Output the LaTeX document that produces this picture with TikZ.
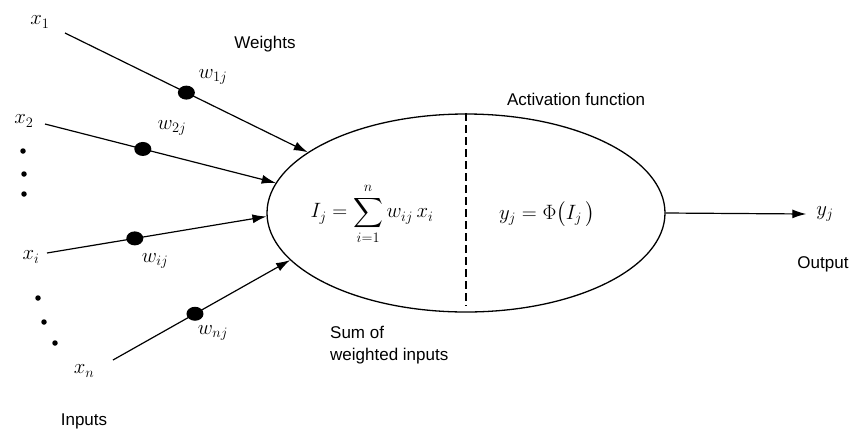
\documentclass[tikz,border=0pt]{standalone}
\usepackage{amsmath}
\usepackage{fontspec}
\setmainfont{Liberation Sans}
\usetikzlibrary{arrows.meta,shapes.geometric}
\tikzset{
  nrbody/.style={ellipse, draw=black, line width=1.3pt, minimum width=398pt, minimum height=198pt, inner sep=0pt},
  nrwire/.style={line width=1.2pt, draw=black, -{Latex[length=14pt,width=9pt]}},
  nrdot/.style={ellipse, fill=black, minimum width=17pt, minimum height=14pt, inner sep=0pt},
  nrsmall/.style={circle, fill=black, minimum size=5.5pt, inner sep=0pt},
  nrsplit/.style={line width=1.6pt, draw=black, dash pattern=on 8pt off 4pt},
  nrtext/.style={font=\fontsize{17}{22}\selectfont, inner sep=0pt, align=left},
  nrmath/.style={font=\fontsize{21}{25}\selectfont, inner sep=0pt},
}

\begin{document}
\begin{tikzpicture}[x=1pt,y=-1pt]
\useasboundingbox (0,0) rectangle (849,432);
% neuron body
\node[nrbody] (neuron) at (466,213) {};
\draw[nrsplit] (neuron.north) -- ([yshift=7pt]neuron.south);
\node[nrmath] (sum) at (372,214) {$I_j = \displaystyle\sum_{i=1}^{n} w_{ij}\,x_i$};
\node[nrmath] (act) at (547,214) {$y_j = \Phi\bigl(I_j\,\bigr)$};
% inputs
\coordinate (s1) at (65,33);
\coordinate (s2) at (45,124);
\coordinate (si) at (47,253);
\coordinate (sn) at (113,360);
\node[nrmath] (x1) at (40,22) {$x_1$};
\node[nrmath] (x2) at (24,121) {$x_2$};
\node[nrmath] (xi) at (31,257) {$x_i$};
\node[nrmath] (xn) at (84,371) {$x_n$};
\draw[nrwire] (s1) -- node[nrdot,pos=0.5] (d1) {} (neuron.159);
\draw[nrwire] (s2) -- node[nrdot,pos=0.424] (d2) {} (neuron.171);
\draw[nrwire] (si) -- node[nrdot,pos=0.4] (di) {} (neuron.181);
\draw[nrwire] (sn) -- node[nrdot,pos=0.463] (dn) {} (neuron.195);
\node[nrmath] (w1) at (213,77) {$w_{1j}$};
\node[nrmath] (w2) at (172,128) {$w_{2j}$};
\node[nrmath] (wi) at (155,261) {$w_{ij}$};
\node[nrmath] (wn) at (213,333) {$w_{nj}$};
% dots between inputs
\node[nrsmall] (g1) at (23,151) {};
\node[nrsmall] (g2) at (24,174) {};
\node[nrsmall] (g3) at (24,194) {};
\node[nrsmall] (g4) at (38,298) {};
\node[nrsmall] (g5) at (44,322) {};
\node[nrsmall] (g6) at (55,343) {};
% output
\node[nrmath] (yout) at (825,214) {$y_j$};
\draw[nrwire] (neuron.east) -- ([xshift=-10pt]yout.west);
% captions
\node[nrtext] (weights) at (265,44) {Weights};
\node[nrtext] (actlbl) at (576,99) {Activation function};
\node[nrtext, anchor=north west] (sumlbl) at (330,326) {Sum of\\weighted inputs};
\node[nrtext] (outlbl) at (823,264) {Output};
\node[nrtext] (inlbl) at (84,421) {Inputs};
\end{tikzpicture}
\end{document}
